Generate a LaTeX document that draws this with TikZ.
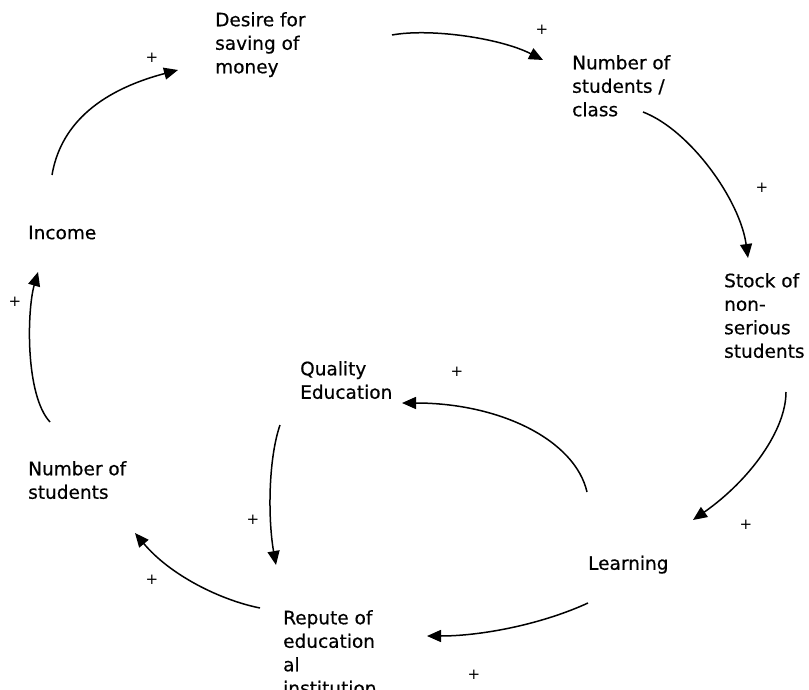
\documentclass[tikz,border=0pt]{standalone}
\usepackage{fontspec}
\setmainfont{DejaVu Sans}
\newfontfamily\factorfont{DejaVu Sans}[FakeBold=0.5]
\usetikzlibrary{arrows.meta}

\begin{document}
\begin{tikzpicture}[x=1pt,y=-1pt,
    factor/.style={anchor=north west,inner sep=0pt,align=left,
      font=\factorfont\fontsize{18.5}{23.5}\selectfont},
    sign/.style={inner sep=0pt,font=\fontsize{15}{15}\selectfont},
    link/.style={line width=1.5pt,-{Triangle[length=14pt,width=12pt]}}]
  \clip (0,0) rectangle (809,690);

  % variables of the loop
  \node[factor] (desire)   at (215,12)    {Desire for\\saving of\\money};
  \node[factor] (numclass) at (572,55)    {Number of\\students /\\class};
  \node[factor] (income)   at (28,225.5)  {Income};
  \node[factor] (stock)    at (724,273)   {Stock of\\non-\\serious\\students};
  \node[factor] (quality)  at (300,361)   {Quality\\Education};
  \node[factor] (numstud)  at (28,461)    {Number of\\students};
  \node[factor] (learning) at (588,555.5) {Learning};
  \node[factor] (repute)   at (283,610)   {Repute of\\education\\al\\institution};

  % polarities
  \node[sign] (p1) at (152,58)  {+};
  \node[sign] (p2) at (542,30)  {+};
  \node[sign] (p3) at (762,188) {+};
  \node[sign] (p4) at (746,525) {+};
  \node[sign] (p5) at (457,372) {+};
  \node[sign] (p6) at (253,520) {+};
  \node[sign] (p7) at (152,580) {+};
  \node[sign] (p8) at (15,302)  {+};
  \node[sign] (p9) at (474,675) {+};

  % links
  \draw[link] ([shift={(24,-50.5)}]income.north west) .. controls (60,128) and (95,92) .. ([shift={(-37,58)}]desire.north west);
  \draw[link] ([shift={(177,23)}]desire.north west) .. controls (430,28) and (500,38) .. ([shift={(-29,5)}]numclass.north west);
  \draw[link] ([shift={(71,57)}]numclass.north west) .. controls (690,130) and (740,200) .. ([shift={(24,-15)}]stock.north west);
  \draw[link] ([shift={(62,119)}]stock.north west) .. controls (786,430) and (750,480) .. ([shift={(105,-35.5)}]learning.north west);
  \draw[link] ([shift={(-1,-63.5)}]learning.north west) .. controls (575,440) and (500,403) .. ([shift={(102,42)}]quality.north west);
  \draw[link] ([shift={(-20,64)}]quality.north west) .. controls (268,460) and (268,520) .. ([shift={(-7,-45)}]repute.north west);
  \draw[link] ([shift={(-23,-2)}]repute.north west) .. controls (220,600) and (170,575) .. ([shift={(107,72)}]numstud.north west);
  \draw[link] ([shift={(22,-39)}]numstud.north west) .. controls (25,395) and (27,310) .. ([shift={(10,46.5)}]income.north west);
  \draw[link] ([shift={(0,47.5)}]learning.north west) .. controls (540,625) and (480,636) .. ([shift={(144,26)}]repute.north west);
\end{tikzpicture}
\end{document}
